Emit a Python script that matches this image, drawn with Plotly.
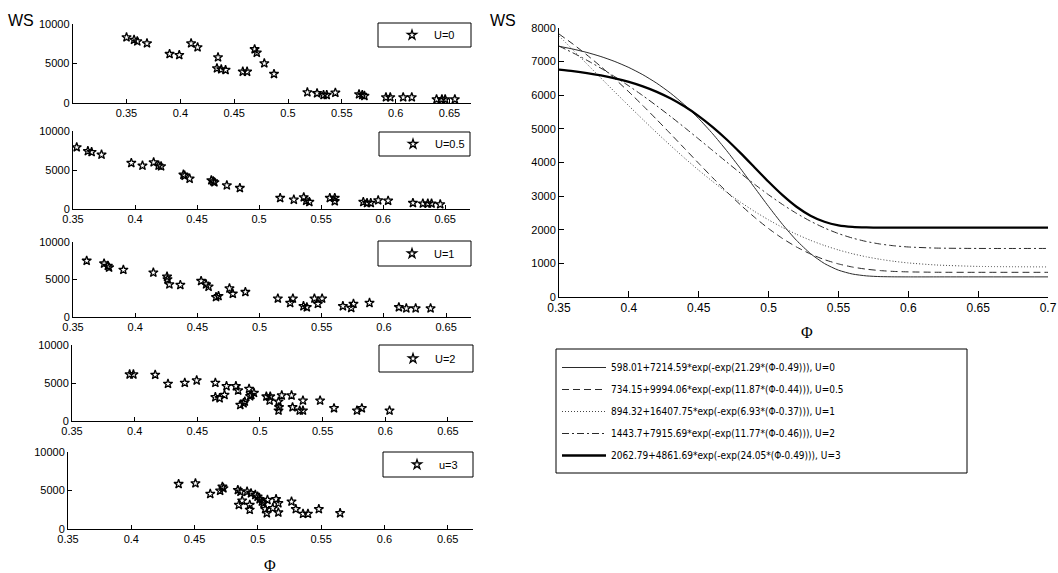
import plotly.graph_objects as go

# ---------------- data ----------------
scatter_names = ["U=0", "U=0.5", "U=1", "U=2", "u=3"]

phi_u0 = [0.350, 0.357, 0.360, 0.369, 0.390, 0.399, 0.410, 0.416, 0.435, 0.434, 0.438, 0.442,
          0.458, 0.462, 0.469, 0.471, 0.478, 0.487, 0.518, 0.527, 0.533, 0.536, 0.544, 0.566,
          0.569, 0.571, 0.591, 0.595, 0.607, 0.615, 0.638, 0.643, 0.646, 0.655]
ws_u0 = [8310, 8000, 7800, 7550, 6200, 6070, 7550, 7050, 5780, 4390, 4260, 4180,
         3970, 3970, 6800, 6370, 5020, 3670, 1350, 1230, 1010, 1010, 1300, 1100,
         1010, 900, 720, 720, 720, 720, 470, 470, 470, 470]

phi_u05 = [0.353, 0.362, 0.365, 0.373, 0.397, 0.406, 0.415, 0.419, 0.421, 0.439, 0.440, 0.444,
           0.4615, 0.463, 0.464, 0.474, 0.4845, 0.517, 0.528, 0.536, 0.538, 0.5405, 0.557,
           0.561, 0.561, 0.584, 0.587, 0.590, 0.596, 0.604, 0.624, 0.632, 0.636, 0.639, 0.646]
ws_u05 = [7910, 7420, 7300, 6970, 5900, 5560, 5980, 5560, 5470, 4400, 4270, 3890,
          3680, 3550, 3420, 3030, 2690, 1410, 1190, 1500, 1060, 900, 1410,
          1410, 990, 900, 770, 770, 1110, 1060, 770, 700, 700, 700, 600]

phi_u1 = [0.361, 0.375, 0.378, 0.379, 0.3905, 0.4146, 0.4256, 0.426, 0.4275, 0.4363, 0.453,
          0.457, 0.459, 0.465, 0.467, 0.4758, 0.4785, 0.4886, 0.5147, 0.5246, 0.5268, 0.5353,
          0.538, 0.5441, 0.5469, 0.5503, 0.567, 0.5737, 0.5755, 0.5884, 0.612, 0.618, 0.6255, 0.6375]
ws_u1 = [7500, 7130, 6820, 6600, 6290, 5920, 5380, 5020, 4350, 4270, 4800,
         4350, 4040, 2650, 2790, 3810, 3100, 3330, 2460, 1880, 2460, 1440,
         1300, 2460, 1750, 2460, 1440, 1210, 1750, 1880, 1300, 1150, 1150, 1150]

phi_u2 = [0.396, 0.399, 0.4164, 0.4266, 0.44, 0.4495, 0.4644, 0.4644, 0.4678, 0.4717, 0.4733,
          0.4808, 0.4826, 0.4843, 0.4869, 0.4879, 0.4913, 0.4921, 0.4931, 0.4952, 0.5051,
          0.5077, 0.5082, 0.5148, 0.5152, 0.5148, 0.5174, 0.5252, 0.526, 0.5317, 0.5343,
          0.5343, 0.548, 0.5591, 0.5774, 0.5813, 0.6034]
ws_u2 = [6130, 6130, 6080, 4890, 5020, 5340, 5020, 3130, 3000, 3430, 4580,
         4580, 4020, 2110, 2340, 2560, 4230, 3260, 3430, 3700, 3220,
         2690, 3220, 2560, 1810, 1370, 3360, 3360, 1810, 1370, 1370,
         2690, 2690, 1680, 1370, 1680, 1370]

phi_u3 = [0.4374, 0.4507, 0.4624, 0.4702, 0.472, 0.4728, 0.4842, 0.4863, 0.485, 0.4876, 0.4915,
          0.4946, 0.4936, 0.4936, 0.498, 0.4998, 0.5014, 0.5032, 0.5045, 0.5058, 0.5071, 0.5076,
          0.5118, 0.5144, 0.5162, 0.5162, 0.5266, 0.53, 0.5357, 0.5396, 0.5482, 0.565]
ws_u3 = [5840, 5930, 4550, 4970, 5490, 5280, 5060, 4850, 3130, 3690, 4850,
         4640, 3130, 2490, 4420, 4200, 3870, 3560, 3350, 2580, 2060, 3780,
         2710, 3870, 3350, 2140, 3560, 2580, 1970, 1970, 2580, 2060]

phi_fit = [0.35, 0.36, 0.37, 0.38, 0.39, 0.40, 0.41, 0.42, 0.43, 0.44, 0.45, 0.46, 0.47, 0.48,
           0.49, 0.50, 0.51, 0.52, 0.53, 0.54, 0.55, 0.56, 0.57, 0.58, 0.59, 0.60, 0.62, 0.65, 0.70]
ws_fit_u0 = [7456, 7373, 7273, 7151, 7003, 6825, 6611, 6357, 6057, 5708, 5307, 4853, 4352, 3814,
             3252, 2692, 2159, 1684, 1291, 995, 798, 683, 628, 606, 600, 598, 598, 598, 598]
ws_fit_u05 = [7822, 7522, 7198, 6853, 6487, 6100, 5695, 5275, 4846, 4411, 3975, 3546, 3131, 2736,
              2369, 2035, 1740, 1488, 1278, 1111, 984, 891, 827, 785, 760, 747, 736, 734, 734]
ws_fit_u1 = [7764, 7349, 6930, 6512, 6095, 5685, 5280, 4883, 4499, 4126, 3770, 3434, 3115, 2818,
             2544, 2294, 2067, 1865, 1686, 1531, 1399, 1287, 1195, 1120, 1060, 1013, 952, 910, 895]
ws_fit_u2 = [7462, 7260, 7040, 6804, 6549, 6277, 5988, 5683, 5365, 5036, 4698, 4356, 4014, 3677,
             3351, 3040, 2751, 2487, 2254, 2053, 1886, 1753, 1650, 1574, 1522, 1488, 1455, 1444, 1444]
ws_fit_u3 = [6760, 6716, 6661, 6592, 6505, 6397, 6264, 6101, 5902, 5663, 5381, 5053, 4683, 4278,
             3852, 3426, 3028, 2684, 2418, 2237, 2133, 2085, 2068, 2063, 2063, 2063, 2063, 2063, 2063]

fit_labels = [
    "598.01+7214.59*exp(-exp(21.29*(\u03a6-0.49))), U=0",
    "734.15+9994.06*exp(-exp(11.87*(\u03a6-0.44))), U=0.5",
    "894.32+16407.75*exp(-exp(6.93*(\u03a6-0.37))), U=1",
    "1443.7+7915.69*exp(-exp(11.77*(\u03a6-0.46))), U=2",
    "2062.79+4861.69*exp(-exp(24.05*(\u03a6-0.49))), U=3",
]

left_xticks = [0.35, 0.40, 0.45, 0.50, 0.55, 0.60, 0.65]
left_xticktext = ["0.35", "0.4", "0.45", "0.5", "0.55", "0.6", "0.65"]
left_yticks = [0, 5000, 10000]
left_yticktext = ["0", "5000", "10000"]
right_xticks = [0.35, 0.40, 0.45, 0.50, 0.55, 0.60, 0.65, 0.70]
right_xticktext = ["0.35", "0.4", "0.45", "0.5", "0.55", "0.6", "0.65", "0.7"]
right_yticks = [0, 1000, 2000, 3000, 4000, 5000, 6000, 7000, 8000]
right_yticktext = ["0", "1000", "2000", "3000", "4000", "5000", "6000", "7000", "8000"]

# ---------------- layout helpers ----------------
W, H = 1058, 573
def px(x):
    return x / W
def py(y):
    return 1 - y / H

FONT = "Liberation Sans, Arial, sans-serif"
NARROW = "Liberation Sans Narrow, Arial Narrow, DejaVu Sans Condensed, Liberation Sans, Arial, sans-serif"

scatter_x = [phi_u0, phi_u05, phi_u1, phi_u2, phi_u3]
scatter_y = [ws_u0, ws_u05, ws_u1, ws_u2, ws_u3]

# pixel geometry of left panels: (left, right, top, bottom)
panels = [(72.7, 471, 24, 103), (73, 470, 131, 209), (73, 471, 242, 317),
          (72, 473, 345, 421), (68, 473, 452, 529)]
xranges = [[0.30, 0.67], [0.35, 0.67], [0.35, 0.67], [0.35, 0.67], [0.35, 0.67]]
boxes = [(378, 23, 471, 47), (379, 132, 470, 156), (378, 241, 471, 266),
         (379, 345, 473, 372), (383, 452, 473, 477)]

fig = go.Figure()
layout = dict(
    width=W, height=H,
    margin=dict(l=0, r=0, t=0, b=0),
    paper_bgcolor="white", plot_bgcolor="white",
    font=dict(family=FONT, size=11, color="black"),
    shapes=[], annotations=[],
)

axis_common = dict(showgrid=False, zeroline=False, showline=True, linecolor="black",
                   linewidth=1, ticks="inside", ticklen=4, tickcolor="black",
                   automargin=False, fixedrange=True, ticklabeloverflow="allow")

for i in range(5):
    n = i + 1
    xa = "x" if n == 1 else f"x{n}"
    ya = "y" if n == 1 else f"y{n}"
    leg = "legend" + str(n + 1)
    fig.add_trace(go.Scatter(
        x=scatter_x[i], y=scatter_y[i], mode="markers", name=scatter_names[i],
        marker=dict(symbol="star-open", size=7, color="black", line=dict(width=1.3, color="black")),
        xaxis=xa, yaxis=ya, legend=leg, showlegend=True,
    ))
    l, r, t, b = panels[i]
    layout["xaxis" + ("" if n == 1 else str(n))] = dict(
        axis_common, domain=[px(l), px(r)], range=xranges[i], anchor=ya,
        tickvals=left_xticks, ticktext=left_xticktext, tickfont=dict(size=11))
    layout["yaxis" + ("" if n == 1 else str(n))] = dict(
        axis_common, domain=[py(b), py(t)], range=[0, 10000], anchor=xa,
        tickvals=left_yticks, ticktext=left_yticktext, tickfont=dict(size=11))
    bx0, by0, bx1, by1 = boxes[i]
    layout["shapes"].append(dict(type="rect", xref="paper", yref="paper",
                                 x0=px(bx0), x1=px(bx1), y0=py(by1), y1=py(by0),
                                 line=dict(color="black", width=1), fillcolor="rgba(0,0,0,0)"))
    layout[leg] = dict(x=px(bx0 + 12), y=py((by0 + by1) / 2), xanchor="left", yanchor="middle",
                       bgcolor="rgba(0,0,0,0)", borderwidth=0,
                       font=dict(family=FONT, size=11, color="black"),
                       itemwidth=34)

# right panel fits
fit_y = [ws_fit_u0, ws_fit_u05, ws_fit_u1, ws_fit_u2, ws_fit_u3]
fit_styles = [
    dict(color="#2a2a2a", width=1, dash="solid"),
    dict(color="#2a2a2a", width=1, dash="7px,4px"),
    dict(color="#444444", width=1, dash="1px,2px"),
    dict(color="#2a2a2a", width=1, dash="7px,3px,2px,3px"),
    dict(color="black", width=2.3, dash="solid"),
]
for i in range(5):
    fig.add_trace(go.Scatter(
        x=phi_fit, y=fit_y[i], mode="lines", name=fit_labels[i],
        line=dict(shape="spline", smoothing=0.6, **fit_styles[i]),
        xaxis="x6", yaxis="y6", legend="legend", legendgroup=f"g{i}", showlegend=True,
    ))

layout["xaxis6"] = dict(axis_common, domain=[px(559), px(1048)], range=[0.35, 0.70], anchor="y6",
                        tickvals=right_xticks, ticktext=right_xticktext, ticklen=6,
                        tickfont=dict(size=12))
layout["yaxis6"] = dict(axis_common, domain=[py(297), py(28)], range=[0, 8000], anchor="x6",
                        tickvals=right_yticks, ticktext=right_yticktext, ticklen=5,
                        tickfont=dict(size=11))

layout["shapes"].append(dict(type="rect", xref="paper", yref="paper",
                             x0=px(556), x1=px(967), y0=py(473), y1=py(349),
                             line=dict(color="black", width=1), fillcolor="rgba(0,0,0,0)"))
layout["legend"] = dict(x=px(557), y=py(353), xanchor="left", yanchor="top",
                        bgcolor="rgba(0,0,0,0)", borderwidth=0, tracegroupgap=3,
                        itemwidth=44, traceorder="grouped",
                        font=dict(family=NARROW, size=10, color="black"))

layout["annotations"] = [
    dict(text="WS", xref="paper", yref="paper", x=px(21), y=py(20), showarrow=False,
         font=dict(family=FONT, size=16, color="black"), xanchor="center", yanchor="middle"),
    dict(text="WS", xref="paper", yref="paper", x=px(503), y=py(20), showarrow=False,
         font=dict(family=FONT, size=16, color="black"), xanchor="center", yanchor="middle"),
    dict(text="\u03a6", xref="paper", yref="paper", x=px(270), y=py(565), showarrow=False,
         font=dict(family="Liberation Serif, Times New Roman, serif", size=16, color="black"),
         xanchor="center", yanchor="middle"),
    dict(text="\u03a6", xref="paper", yref="paper", x=px(807), y=py(332), showarrow=False,
         font=dict(family="Liberation Serif, Times New Roman, serif", size=16, color="black"),
         xanchor="center", yanchor="middle"),
]

fig.update_layout(**layout)
fig.write_html("out.html")
